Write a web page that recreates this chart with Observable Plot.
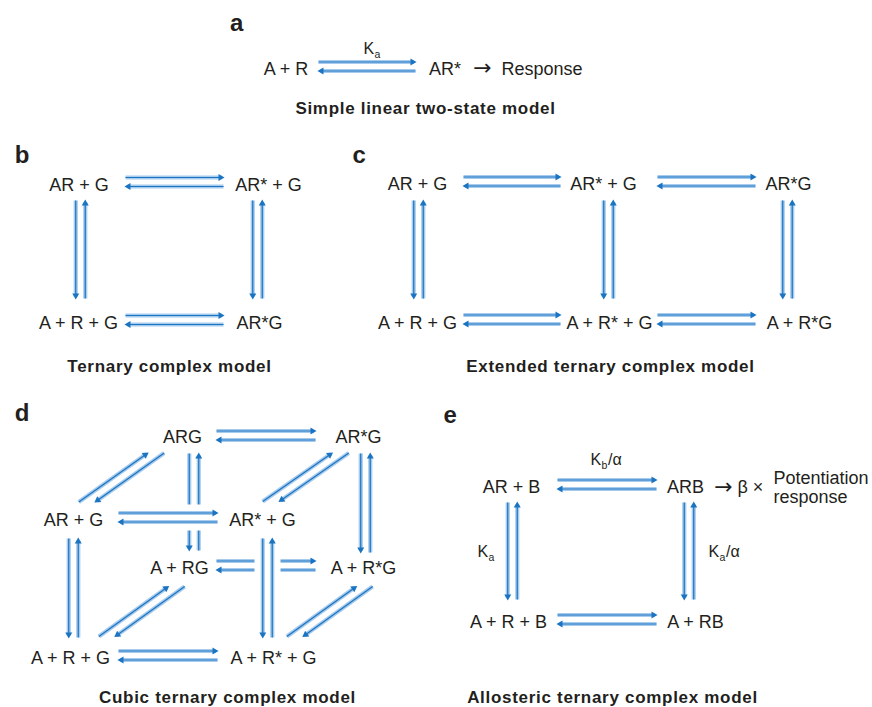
<!DOCTYPE html>
<html><head><meta charset="utf-8">
<script src="https://cdn.jsdelivr.net/npm/d3@7"></script>
<script src="https://cdn.jsdelivr.net/npm/@observablehq/plot@0.6"></script>
<style>
body{margin:0;background:#fff}
g[font-weight="bold"] text{letter-spacing:0.7px}
</style>
</head><body><div id="chart"></div>
<script>
// ---- diagram content ----
const panelLetters = [
  {x: 236.5, y: 23, label: "a"}, {x: 22, y: 155, label: "b"}, {x: 359, y: 155, label: "c"},
  {x: 22, y: 413, label: "d"}, {x: 450, y: 415, label: "e"}
];
const titles = [
  {x: 425, y: 108, label: "Simple linear two-state model"},
  {x: 169, y: 366, label: "Ternary complex model"},
  {x: 610, y: 366, label: "Extended ternary complex model"},
  {x: 227, y: 697, label: "Cubic ternary complex model"},
  {x: 612, y: 697, label: "Allosteric ternary complex model"}
];
const species = [
  {x: 285.5, y: 68.5, label: "A + R"}, {x: 444.5, y: 68.5, label: "AR*"},
  {x: 78.5, y: 185, label: "AR + G"}, {x: 268, y: 185, label: "AR* + G"},
  {x: 78, y: 323, label: "A + R + G"}, {x: 259, y: 323, label: "AR*G"},
  {x: 417, y: 184, label: "AR + G"}, {x: 603, y: 184, label: "AR* + G"}, {x: 788, y: 184, label: "AR*G"},
  {x: 417, y: 322.5, label: "A + R + G"}, {x: 609, y: 322.5, label: "A + R* + G"}, {x: 799, y: 322.5, label: "A + R*G"},
  {x: 182, y: 437, label: "ARG"}, {x: 358, y: 437, label: "AR*G"},
  {x: 73, y: 520, label: "AR + G"}, {x: 262, y: 520, label: "AR* + G"},
  {x: 179, y: 568, label: "A + RG"}, {x: 363, y: 568, label: "A + R*G"},
  {x: 70, y: 658, label: "A + R + G"}, {x: 273, y: 658, label: "A + R* + G"},
  {x: 511, y: 487, label: "AR + B"}, {x: 685, y: 487, label: "ARB"},
  {x: 508, y: 622, label: "A + R + B"}, {x: 695, y: 622, label: "A + RB"}
];
const outcomeArrows = [
  {x: 482, y: 67.5, label: "→"}, {x: 723, y: 486, label: "→"}
];
const notes = [
  {x: 501, y: 68.5, label: "Response"},
  {x: 737, y: 487, label: "β ×"},
  {x: 773, y: 478, label: "Potentiation"}, {x: 773, y: 497, label: "response"}
];
const constants = [
  {x: 363, y: 48, main: "K", sub: "a", tail: ""},
  {x: 590, y: 459, main: "K", sub: "b", tail: "/α"},
  {x: 477, y: 551, main: "K", sub: "a", tail: ""},
  {x: 708, y: 551, main: "K", sub: "a", tail: "/α"}
];
// reversible steps: centre line from start state to end state; layer "front" crosses over others
const steps = [
  {x1: 318, y1: 66, x2: 415, y2: 66, layer: "back"},
  {x1: 125, y1: 181.5, x2: 223, y2: 181.5, layer: "back"},
  {x1: 125, y1: 319.5, x2: 223, y2: 319.5, layer: "back"},
  {x1: 80, y1: 200, x2: 80, y2: 298, layer: "back"},
  {x1: 257, y1: 200, x2: 257, y2: 298, layer: "back"},
  {x1: 463, y1: 181, x2: 560, y2: 181, layer: "back"},
  {x1: 657, y1: 181, x2: 755, y2: 181, layer: "back"},
  {x1: 463, y1: 319, x2: 560, y2: 319, layer: "back"},
  {x1: 657, y1: 319, x2: 755, y2: 319, layer: "back"},
  {x1: 418, y1: 200, x2: 418, y2: 298, layer: "back"},
  {x1: 608, y1: 200, x2: 608, y2: 298, layer: "back"},
  {x1: 787, y1: 200, x2: 787, y2: 298, layer: "back"},
  {x1: 216, y1: 435, x2: 315, y2: 435, layer: "back"},
  {x1: 216, y1: 565, x2: 315, y2: 565, layer: "back"},
  {x1: 118, y1: 655, x2: 217, y2: 655, layer: "back"},
  {x1: 193.5, y1: 453, x2: 193.5, y2: 550, layer: "back"},
  {x1: 365, y1: 453, x2: 365, y2: 552, layer: "back"},
  {x1: 73, y1: 538, x2: 73, y2: 637, layer: "back"},
  {x1: 86.5, y1: 501.5, x2: 155.5, y2: 452.5, layer: "back"},
  {x1: 270.5, y1: 501, x2: 340, y2: 452.5, layer: "back"},
  {x1: 106.5, y1: 636, x2: 176, y2: 586, layer: "back"},
  {x1: 294.5, y1: 636, x2: 364, y2: 586, layer: "back"},
  {x1: 118, y1: 517, x2: 217, y2: 517, layer: "front"},
  {x1: 267, y1: 538, x2: 267, y2: 637, layer: "front"},
  {x1: 557, y1: 484, x2: 656, y2: 484, layer: "back"},
  {x1: 557, y1: 619, x2: 656, y2: 619, layer: "back"},
  {x1: 512, y1: 502, x2: 512, y2: 599, layer: "back"},
  {x1: 688.5, y1: 502, x2: 688.5, y2: 599, layer: "back"}
];

// ---- styling ----
const light = "#a6cbed", dark = "#1b74c2", ink = "#231f20";

function harpoons(edges) {
  const out = [];
  for (const e of edges) {
    const dx = e.x2 - e.x1, dy = e.y2 - e.y1, L = Math.hypot(dx, dy);
    const ux = dx / L, uy = dy / L;
    let ox = 0, oy = 0;
    if (Math.abs(uy) < 0.01) oy = 4.5; else ox = 4.75 / Math.abs(uy);
    out.push({x1: e.x1 - ox, y1: e.y1 - oy, x2: e.x2 - ox, y2: e.y2 - oy, ux, uy});
    out.push({x1: e.x2 + ox, y1: e.y2 + oy, x2: e.x1 + ox, y2: e.y1 + oy, ux: -ux, uy: -uy});
  }
  return out;
}
function arrowMarks(edges) {
  const ls = harpoons(edges);
  return [
    Plot.link(ls, {x1: "x1", y1: "y1", x2: d => d.x2 - d.ux * 2, y2: d => d.y2 - d.uy * 2, stroke: light, strokeWidth: 4.2}),
    Plot.link(ls, {x1: "x1", y1: "y1", x2: d => d.x2 - d.ux * 3, y2: d => d.y2 - d.uy * 3, stroke: dark, strokeWidth: 1.2}),
    Plot.dot(ls, {x: d => d.x2 - d.ux * 3, y: d => d.y2 - d.uy * 3, symbol: "triangle", r: 2.6, fill: dark, stroke: null,
      rotate: d => Math.atan2(d.ux, -d.uy) * 180 / Math.PI})
  ];
}
const backSteps = steps.filter(d => d.layer === "back");
const frontSteps = steps.filter(d => d.layer === "front");

const chart = Plot.plot({
  width: 872, height: 707, margin: 0,
  x: {domain: [0, 872], range: [0, 872], axis: null},
  y: {domain: [0, 707], range: [0, 707], axis: null},
  style: {fontFamily: "'Liberation Sans', Arial, sans-serif", background: "#fff", color: ink},
  marks: [
    ...arrowMarks(backSteps),
    Plot.link(frontSteps, {x1: "x1", y1: "y1", x2: "x2", y2: "y2", stroke: "#fff", strokeWidth: 26}),
    ...arrowMarks(frontSteps),
    Plot.text(species, {x: "x", y: "y", text: "label", fontSize: 18, fill: ink}),
    Plot.text(outcomeArrows, {x: "x", y: "y", text: "label", fontSize: 22, fontFamily: "'DejaVu Sans', sans-serif", fill: ink}),
    Plot.text(notes, {x: "x", y: "y", text: "label", fontSize: 18, fill: ink, textAnchor: "start"}),
    Plot.text(constants, {x: "x", y: "y", text: "main", fontSize: 16, fill: ink, textAnchor: "start"}),
    Plot.text(constants, {x: "x", y: "y", text: "sub", fontSize: 10.5, fill: ink, textAnchor: "start", dx: 11, dy: 6}),
    Plot.text(constants, {x: "x", y: "y", text: "tail", fontSize: 16, fill: ink, textAnchor: "start", dx: 17.5}),
    Plot.text(titles, {x: "x", y: "y", text: "label", fontSize: 17, fontWeight: "bold", fill: ink}),
    Plot.text(panelLetters, {x: "x", y: "y", text: "label", fontSize: 24, fontWeight: "bold", fill: ink})
  ]
});
document.getElementById("chart").appendChild(chart);
</script>
</body></html>
